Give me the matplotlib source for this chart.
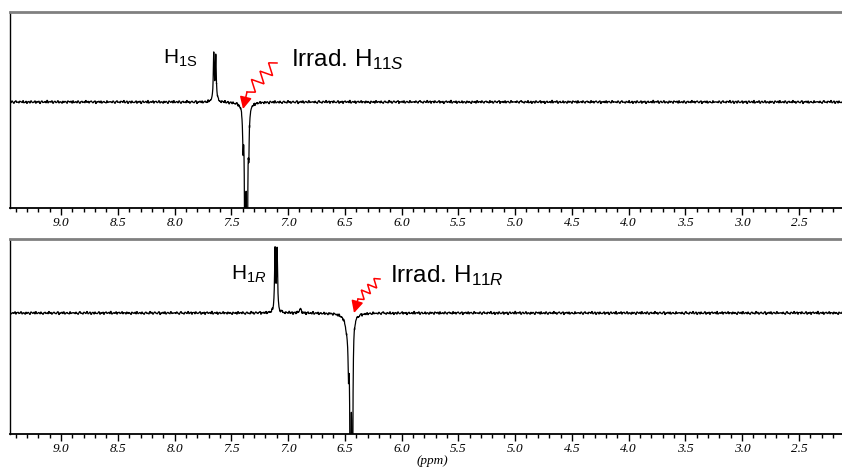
import numpy as np
import matplotlib
matplotlib.use("Agg")
import matplotlib.pyplot as plt
from matplotlib.ticker import MultipleLocator, FixedLocator, FixedFormatter

# ---------------- data ----------------
ppm_left, ppm_right = 9.45, 2.12
major_ticks = [9.0, 8.5, 8.0, 7.5, 7.0, 6.5, 6.0, 5.5, 5.0, 4.5, 4.0, 3.5, 3.0, 2.5]
tick_labels = ["9.0", "8.5", "8.0", "7.5", "7.0", "6.5", "6.0", "5.5", "5.0", "4.5", "4.0", "3.5", "3.0", "2.5"]

# peak lists (ppm, intensity, half-width) for the two difference spectra
top_centers = [7.655, 7.637, 7.397, 7.379, 7.361, 7.346, 7.375]
top_heights = [46, 46, -35, -380, -380, -40, -12]
top_hwhm = [0.005, 0.005, 0.004, 0.003, 0.003, 0.004, 0.02]

bot_centers = [7.115, 7.097, 6.894, 6.468, 6.451, 6.434, 6.47]
bot_heights = [62, 62, 4, -35, -400, -400, -20]
bot_hwhm = [0.005, 0.005, 0.01, 0.004, 0.003, 0.003, 0.025]

# baseline noise (hand-typed values)
noise = [0.3, -0.5, 0.8, -0.2, -1.0, 0.4, 1.1, -0.3, 0.0, -0.8, 0.6, 0.2, -0.4, 1.2, -0.6, -0.1, 0.7,
         -1.1, 0.3, 0.5, -0.7, 0.9, -0.2, -0.5, 0.1, 1.0, -0.9, 0.4, -0.3, 0.6, -1.2, 0.2, 0.8, -0.4,
         -0.1, 0.5, -0.6, 1.3, -0.8, 0.0, 0.4, -0.3, 0.9, -1.0, 0.2, 0.6, -0.5, -0.2, 1.0, -0.7, 0.3,
         0.1, -0.9, 0.7, -0.4, 0.5, -0.1, -1.1, 0.8, 0.2, -0.3, 0.6, -0.8, 1.1, -0.5, 0.0, 0.4, -0.6,
         0.9, -0.2, -1.0, 0.3, 0.7, -0.4, 0.1, -0.7, 1.2, -0.3, 0.5, -0.9, 0.2, 0.8, -0.1, -0.6, 0.4,
         1.0, -1.2, 0.3, -0.2, 0.6, -0.5, 0.9, -0.8, 0.1, 0.5, -0.3, -0.7, 1.1, -0.4, 0.2, -0.1]


def spectrum(centers, heights, widths, noise_offset):
    base = np.linspace(ppm_left, ppm_right, 1400)
    dense = [np.linspace(c - 0.08, c + 0.08, 400) for c in centers]
    x = np.sort(np.concatenate([base] + dense))[::-1]
    y = np.zeros_like(x)
    for c, h, w in zip(centers, heights, widths):
        y += h * w ** 2 / ((x - c) ** 2 + w ** 2)
    px = np.round((ppm_left - x) * 113.5).astype(int)
    y += 1.2 * np.array(noise)[(px + noise_offset) % len(noise)]
    return x, y


W, H = 842, 467
fig = plt.figure(figsize=(W / 100, H / 100), dpi=100)
fig.patch.set_facecolor("white")

plt.rcParams["mathtext.fontset"] = "custom"
plt.rcParams["mathtext.rm"] = "Liberation Sans"
plt.rcParams["mathtext.it"] = "Liberation Sans:italic"


def make_axes(bottom_px, top_px):
    ax = fig.add_axes([10 / W, 1 - bottom_px / H, 1 - 10 / W, (bottom_px - top_px) / H])
    ax.set_xlim(ppm_left, ppm_right)
    ax.spines["right"].set_visible(False)
    ax.spines["top"].set_color("#808080")
    ax.spines["top"].set_linewidth(2)
    ax.spines["left"].set_color("black")
    ax.spines["left"].set_linewidth(1)
    ax.spines["bottom"].set_linewidth(1.3)
    ax.set_yticks([])
    ax.xaxis.set_major_locator(FixedLocator(major_ticks))
    ax.xaxis.set_major_formatter(FixedFormatter(tick_labels))
    ax.xaxis.set_minor_locator(MultipleLocator(0.1))
    ax.tick_params(axis="x", which="major", direction="out", length=5, width=1, pad=1.5)
    ax.tick_params(axis="x", which="minor", direction="out", length=3, width=1)
    for lab in ax.get_xticklabels():
        lab.set_fontfamily("Liberation Serif")
        lab.set_fontstyle("italic")
        lab.set_fontsize(9.5)
    return ax


ax1 = make_axes(208, 12)
x1, y1 = spectrum(top_centers, top_heights, top_hwhm, 0)
ax1.plot(x1, y1, color="black", lw=0.9)
ax1.set_ylim(-106, 90)

ax2 = make_axes(434, 239)
x2, y2 = spectrum(bot_centers, bot_heights, bot_hwhm, 37)
ax2.plot(x2, y2, color="black", lw=0.9)
ax2.set_ylim(-121, 74)

# overlay in pixel coordinates for annotations
ov = fig.add_axes([0, 0, 1, 1], facecolor="none")
ov.set_xlim(0, W)
ov.set_ylim(H, 0)
ov.axis("off")

sans = "Liberation Sans"
ov.text(163, 64, r"H$_{\mathrm{1S}}$", fontsize=15, family=sans, va="baseline", ha="left")
ov.text(291, 66, r"Irrad. H$_{\mathrm{11}\mathit{S}}$", fontsize=17.5, family=sans, va="baseline", ha="left")
ov.text(231, 280, r"H$_{\mathrm{1}\mathit{R}}$", fontsize=15, family=sans, va="baseline", ha="left")
ov.text(390, 282, r"Irrad. H$_{\mathrm{11}\mathit{R}}$", fontsize=17.5, family=sans, va="baseline", ha="left")


def zigzag(S, E, T, n, amp):
    S, E = np.array(S, float), np.array(E, float)
    d = E - S
    L = np.hypot(*d)
    u = d / L
    perp = np.array([-u[1], u[0]])
    pts = [S]
    for i in range(1, n):
        p = S + d * i / n + perp * amp * (1 if i % 2 else -1)
        pts.append(p)
    pts.append(E)
    pts = np.array(pts)
    ov.plot(pts[:, 0], pts[:, 1], color="red", lw=1.1, solid_joinstyle="miter")
    ov.annotate("", xy=T, xytext=E,
                arrowprops=dict(arrowstyle="-|>,head_length=0.6,head_width=0.3", color="red",
                                lw=1.1, mutation_scale=12, shrinkA=0, shrinkB=0))


zigzag((277, 63), (247, 92), (243, 109), 7, 6)
zigzag((380, 279), (358, 299), (354, 313), 7, 4.5)

fig.text(432 / W, 1 - 461 / H, "(ppm)", family="Liberation Serif", style="italic", size=9.5,
         ha="center", va="center")

fig.savefig("out.png", dpi=100)
